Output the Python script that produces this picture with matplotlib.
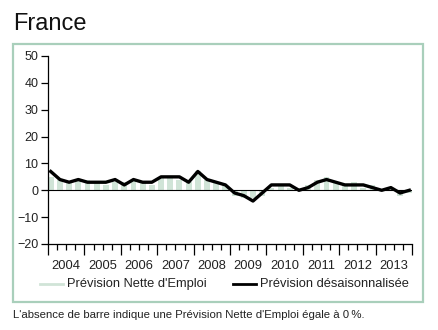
import matplotlib.pyplot as plt
import numpy as np
from matplotlib.patches import Rectangle

plt.rcParams['font.family'] = ['Liberation Sans', 'DejaVu Sans']

# années et valeurs trimestrielles
years = ['2004', '2005', '2006', '2007', '2008', '2009', '2010', '2011', '2012', '2013']
nette = [5, 4, 3, 4,  4, 3, 2, 3,  3, 4, 3, 2,  5, 5, 4, 3,  7, 4, 3, 2,
         -2, -3, -3, -2,  1, 2, 1, 1,  2, 4, 5, 3,  2, 3, 1, 2,  0, 1, -2, -1]
desais = [7, 4, 3, 4,  3, 3, 3, 4,  2, 4, 3, 3,  5, 5, 5, 3,  7, 4, 3, 2,
          -1, -2, -4, -1,  2, 2, 2, 0,  1, 3, 4, 3,  2, 2, 2, 1,  0, 1, -1, 0]
yticks = [-20, -10, 0, 10, 20, 30, 40, 50]

green = '#d0e4d7'
frame = '#a9cfbb'

fig = plt.figure(figsize=(4.38, 3.30), dpi=100)

# cadre vert autour du graphique
fig.patches.append(Rectangle((13/438, 1-302/330), 410/438, 258/330,
                             transform=fig.transFigure, fill=False,
                             edgecolor=frame, linewidth=1.6))
fig.text(13/438, 1-30/330, 'France', fontsize=17, color='#111111')
fig.text(13/438, 1-318/330,
         "L'absence de barre indique une Prévision Nette d'Emploi égale à 0\u2009%.",
         fontsize=8.2, color='#222222')

ax = fig.add_axes([48/438, 1-244/330, 364/438, 188/330])
n = len(desais)
x = np.linspace(0.3, 39.7, n)
ax.bar(x, nette, width=0.65, color=green, zorder=1)
ax.axhline(0, color='black', linewidth=0.8, zorder=2)
ax.plot(x, desais, color='black', linewidth=2.4, zorder=3)

ax.set_xlim(0, 40)
ax.set_ylim(-20, 50)
ax.set_yticks(yticks)
ax.set_xticks(np.arange(0, 41, 4))
ax.set_xticklabels([])
ax.set_xticks(np.arange(0, 41, 1), minor=True)
for i, yr in enumerate(years):
    ax.text(4*i+2, -25.8, yr, ha='center', va='top', fontsize=9.3, color='#222222')
ax.tick_params(axis='x', which='major', length=8, width=0.9, direction='out')
ax.tick_params(axis='x', which='minor', length=4, width=0.9, direction='out')
ax.tick_params(axis='y', length=5, width=0.9, labelsize=9, pad=2, labelcolor='#222222')
for s in ['top', 'right']:
    ax.spines[s].set_visible(False)
for s in ['left', 'bottom']:
    ax.spines[s].set_linewidth(0.9)

# légende
ly = 1-284/330
fig.lines.append(plt.Line2D([40/438, 63/438], [ly, ly], transform=fig.transFigure,
                            color=green, linewidth=2))
fig.text(67/438, ly, "Prévision Nette d'Emploi", fontsize=9.3, va='center', color='#222222')
fig.lines.append(plt.Line2D([233/438, 256/438], [ly, ly], transform=fig.transFigure,
                            color='black', linewidth=2))
fig.text(260/438, ly, 'Prévision désaisonnalisée', fontsize=9.3, va='center', color='#222222')

fig.savefig('out.png', dpi=100)
